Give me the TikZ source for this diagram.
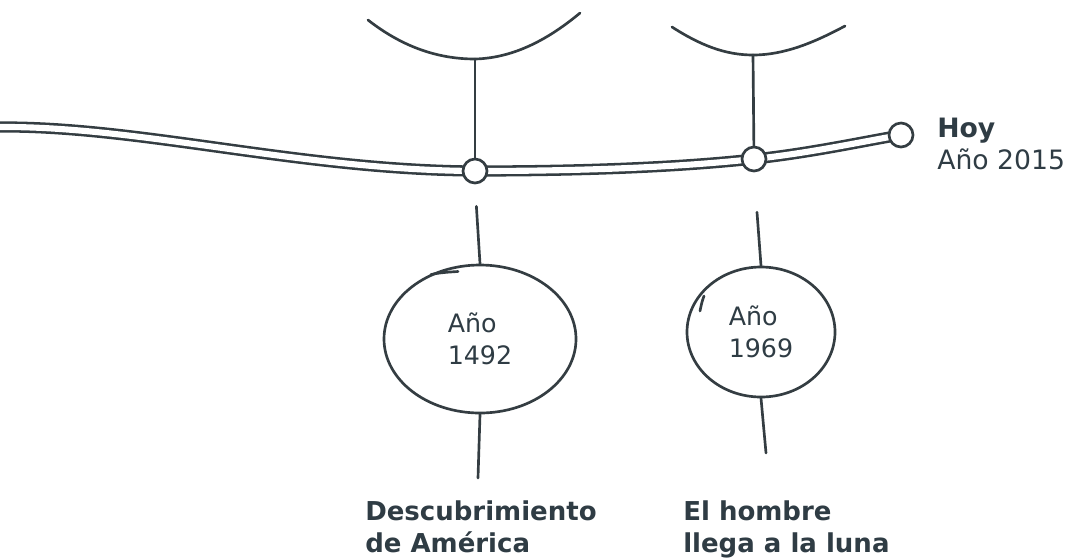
\documentclass[tikz,border=0pt]{standalone}
\usepackage{fontspec}
\setmainfont{DejaVu Sans}
\usetikzlibrary{shapes.geometric,backgrounds}
\definecolor{ink}{HTML}{343D42}
\definecolor{txt}{HTML}{2F3C44}
\tikzset{
  pen/.style={draw=ink, line width=2pt, line cap=round},
  tline/.style={draw=ink, line width=1.9pt, double=white, double distance=4.6pt},
  dot/.style={circle, draw=ink, fill=white, line width=2pt, minimum size=18pt, inner sep=0pt},
  yearbox/.style={ellipse, draw=ink, line width=2pt, inner sep=0pt, align=left, text=txt,
                  font=\fontsize{19}{24}\selectfont},
  evlabel/.style={anchor=base west, inner sep=0pt, align=left, text=txt,
                  font=\fontsize{19.5}{23.5}\selectfont\bfseries},
  nowlabel/.style={anchor=base west, inner sep=0pt, align=left, text=txt,
                  font=\fontsize{20}{24}\selectfont},
}
\begin{document}
\begin{tikzpicture}[x=0.75pt,y=-0.75pt]
\useasboundingbox (0,0) rectangle (1070,558);
% timeline nodes
\node[dot] (n1) at (475,171) {};
\node[dot] (n2) at (754,159) {};
\node[dot] (n3) at (901,135) {};
\coordinate (start) at (0,127);
% top arcs
\coordinate (a1) at (475,59);
\coordinate (a2) at (753,55);
\draw[pen] (368,20) .. controls (400,45) and (435,59) .. (a1) .. controls (515,58) and (550,38) .. (580,13);
\draw[pen] (672,27) .. controls (700,45) and (725,55) .. (a2) .. controls (785,55) and (815,42) .. (845,26);
\draw[pen] (a1) -- (n1);
\draw[pen] (a2) -- (n2);
% double timeline (behind the dots)
\begin{scope}[on background layer]
\draw[tline] (start) .. controls (140,126) and (300,170) .. (n1.center)
  .. controls (600,171) and (690,166) .. (n2.center)
  .. controls (810,153) and (860,142) .. (n3.center);
\end{scope}
% year ellipses
\node[yearbox, minimum width=144pt, minimum height=111pt] (e1) at (480,339) {Año\\1492};
\node[yearbox, minimum width=111pt, minimum height=97.5pt] (e2) at (761,332) {Año\\1969};
\draw[pen] (431,274.5) .. controls (440,272.5) and (450,272) .. (458,271.5);
\draw[pen] (704,296) .. controls (702,301) and (701,306) .. (700,311);
% connectors
\draw[pen, shorten <=16.5pt] (n1.south) -- (e1.north);
\draw[pen, shorten <=30pt] (n2.south) -- (e2.north);
\coordinate (b1) at (478,478);
\coordinate (b2) at (766,453);
\draw[pen] (e1.south) -- (b1);
\draw[pen] (e2.south) -- (b2);
% labels
\node[evlabel] (l1) at (365,552) {Descubrimiento\\de América};
\node[evlabel] (l2) at (683,552) {El hombre\\llega a la luna};
\node[nowlabel] (hoy) at (937,169) {\textbf{Hoy}\\Año 2015};
\end{tikzpicture}
\end{document}
